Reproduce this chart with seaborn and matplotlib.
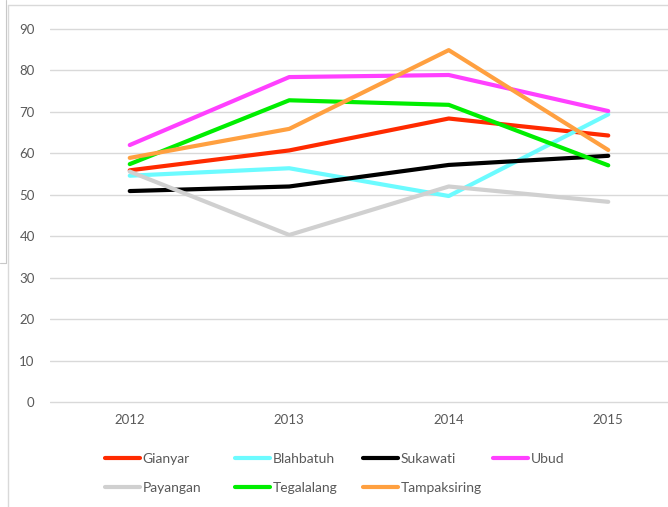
import matplotlib
matplotlib.use("Agg")
import matplotlib.pyplot as plt
from matplotlib.lines import Line2D
import seaborn as sns
import pandas as pd

# ===============================
# DATA
# ===============================
years = ["2012", "2013", "2014", "2015"]
gianyar = [55.9, 60.7, 68.4, 64.3]
blahbatuh = [54.6, 56.4, 49.7, 69.4]
sukawati = [50.9, 52.0, 57.2, 59.4]
ubud = [62.0, 78.4, 78.9, 70.2]
payangan = [55.6, 40.3, 52.0, 48.3]
tegalalang = [57.4, 72.8, 71.7, 57.1]
tampaksiring = [58.9, 65.9, 84.9, 60.8]

regions = ["Gianyar", "Blahbatuh", "Sukawati", "Ubud",
           "Payangan", "Tegalalang", "Tampaksiring"]
series = [gianyar, blahbatuh, sukawati, ubud, payangan, tegalalang, tampaksiring]
colors = ["#FF2A00", "#6CFBFF", "#000000", "#FF40FF",
          "#D0D0D0", "#00EE00", "#FFA040"]

rows = []
for name, vals in zip(regions, series):
    for i, v in enumerate(vals):
        rows.append({"region": name, "pos": i, "value": v})
df = pd.DataFrame(rows)

# ===============================
# PLOT
# ===============================
sns.set_theme(style="white")
plt.rcParams["font.family"] = ["Lato", "DejaVu Sans"]

fig = plt.figure(figsize=(6.68, 5.07), dpi=100)
ax = fig.add_axes([50 / 668, 1 - 410.3 / 507, 638 / 668, (410.3 - 20.7) / 507])

sns.lineplot(data=df, x="pos", y="value", hue="region", hue_order=regions,
             palette=dict(zip(regions, colors)), linewidth=3.0, legend=False,
             ax=ax, zorder=3)

ax.set_xlim(-0.5, 3.5)
ax.set_ylim(-2, 92)
ax.set_xticks(range(len(years)))
ax.set_xticklabels(years)
ax.set_yticks(range(0, 91, 10))
ax.set_xlabel("")
ax.set_ylabel("")
ax.grid(axis="y", color="#D9D9D9", linewidth=1.0)
ax.grid(axis="x", visible=False)
for s in ax.spines.values():
    s.set_visible(False)
ax.tick_params(axis="y", length=0, pad=11, labelsize=9.5, labelcolor="#595959")
ax.tick_params(axis="x", length=0, pad=3, labelsize=9.5, labelcolor="#595959")

# legend laid out in fixed columns like the original
col_x = [105, 235, 363, 493]
row_y = [459, 488]
for k, (name, col) in enumerate(zip(regions, colors)):
    r, c = divmod(k, 4)
    h = Line2D([], [], color=col, linewidth=3.0)
    fig.legend(handles=[h], labels=[name], loc="center left",
               bbox_to_anchor=(col_x[c] / 668, 1 - row_y[r] / 507),
               frameon=False, borderpad=0, borderaxespad=0,
               handlelength=2.55, handletextpad=0.15, fontsize=10,
               labelcolor="#595959")

# chart frame edges
fig.add_artist(Line2D([8 / 668, 8 / 668], [0, 1 - 5 / 507], color="#D9D9D9", lw=1))
fig.add_artist(Line2D([8 / 668, 1], [1 - 5 / 507, 1 - 5 / 507], color="#D9D9D9", lw=1))
fig.add_artist(Line2D([6 / 668, 6 / 668], [1, 1 - 263 / 507], color="#C8C8C8", lw=0.8))
fig.add_artist(Line2D([0, 6 / 668], [1 - 263 / 507, 1 - 263 / 507], color="#C8C8C8", lw=0.8))

fig.savefig("out.png", dpi=100)
